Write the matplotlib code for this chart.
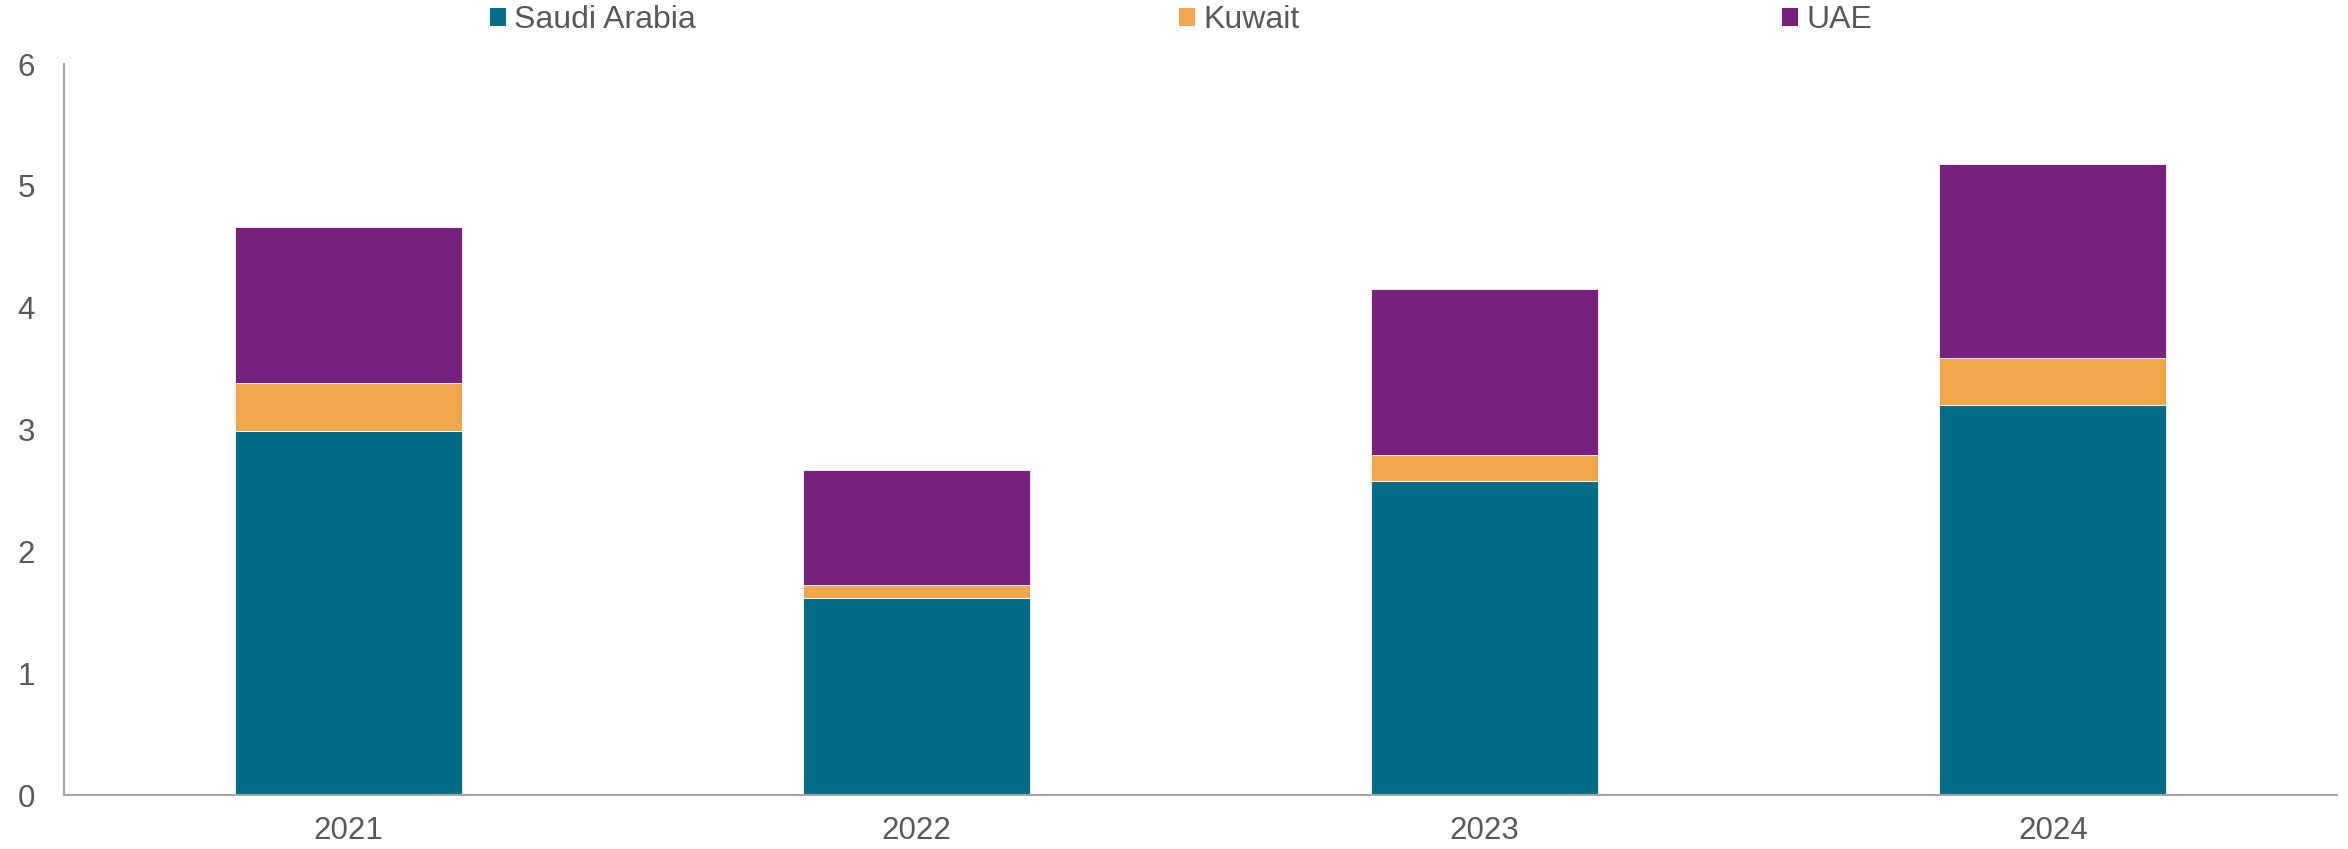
import matplotlib.pyplot as plt
import numpy as np
from matplotlib.patches import Patch

plt.rcParams['font.family'] = ['Liberation Sans', 'DejaVu Sans']

years = ['2021', '2022', '2023', '2024']
saudi = [2.99, 1.62, 2.58, 3.20]
kuwait = [0.39, 0.10, 0.21, 0.39]
uae = [1.28, 0.95, 1.36, 1.59]

series_names = ['Saudi Arabia', 'Kuwait', 'UAE']
colors = ['#006E89', '#F0A64B', '#77207D']
text_color = '#595959'

fig = plt.figure(figsize=(23.48, 8.49), dpi=100)
ax = fig.add_axes([0.0273, 0.0636, 0.968, 0.861])

x = np.arange(len(years))
width = 0.4
bottom = np.zeros(len(years))
for vals, c in zip([saudi, kuwait, uae], colors):
    ax.bar(x, vals, width, bottom=bottom, color=c, edgecolor='white', linewidth=0.6)
    bottom += np.array(vals)

ax.set_xlim(-0.5, 3.5)
ax.set_ylim(0, 6)
ax.set_xticks(x)
ax.set_xticklabels(years)
ax.set_yticks(range(0, 7))
ax.tick_params(axis='both', length=0, labelsize=22.5, colors=text_color)
ax.tick_params(axis='x', pad=15)
ax.tick_params(axis='y', pad=21)

for s in ['top', 'right']:
    ax.spines[s].set_visible(False)
for s in ['left', 'bottom']:
    ax.spines[s].set_color('#A6A6A6')
    ax.spines[s].set_linewidth(1.5)

handles = [Patch(facecolor=c, edgecolor='none') for c in colors]
fig.legend(handles, series_names, loc='center', bbox_to_anchor=(0.503, 0.976),
           ncol=3, frameon=False, fontsize=23, labelcolor=text_color,
           handlelength=0.52, handleheight=0.52, handletextpad=0.25,
           columnspacing=15.1)

fig.savefig('out.png', dpi=100)
